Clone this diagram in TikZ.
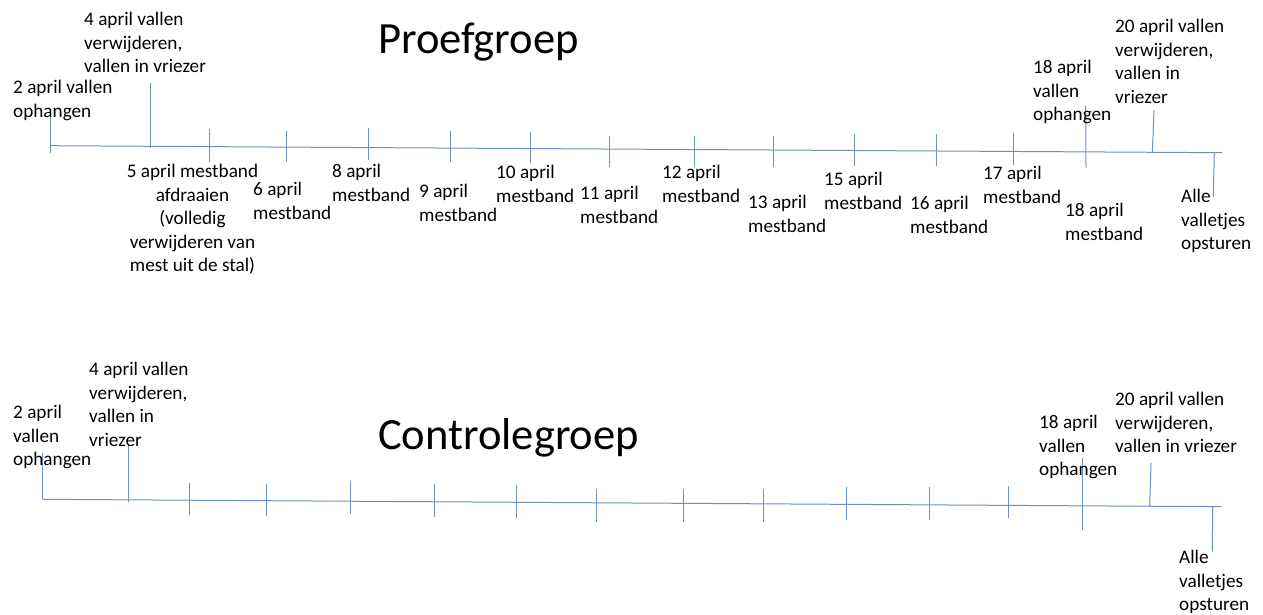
\documentclass[tikz,border=0pt]{standalone}
\usepackage{fontspec}
\setmainfont{Carlito}
\newcommand\lblfont{\fontsize{19.2}{23.6}\selectfont}
\newcommand\ttlfont{\fontsize{44.6}{52}\selectfont}
\definecolor{tl}{RGB}{110,145,188}
\tikzset{
  lbl/.style={font=\lblfont, inner sep=0pt, align=left, anchor=north west},
  clbl/.style={font=\lblfont, inner sep=0pt, align=center, anchor=north},
  ttl/.style={font=\ttlfont, inner sep=0pt},
  axis/.style={draw=tl, line width=1pt},
  tick/.style={draw=tl, line width=1pt}
}
\begin{document}
\begin{tikzpicture}[x=1pt,y=-1pt]
\useasboundingbox (0,0) rectangle (1263,615);
% ---------- Proefgroep ----------
\coordinate (a0) at (50.7,145.7);
\coordinate (a1) at (1222,152.7);
\draw[axis] (a0) -- (a1);
\foreach \x/\ya/\yb in {50.7/113/153, 150/82.7/148, 209.3/129/162, 286/131/162, 368.3/128/160,
  450/131/162, 530.3/132/163, 609.3/135.7/167, 694.3/135.7/167, 773.3/135.7/167,
  854.3/134/166, 936.3/134/166, 1013.3/133/165}
  \draw[tick] (\x,\ya) -- (\x,\yb);
\draw[tick] (1085.7,106) -- (1086,167.7);
\draw[tick] (1154,110) -- (1152.3,153);
\draw[tick] (1214.3,153) -- (1213.3,197);

\node[ttl] (t1) at (478.5,42) {Proefgroep};
\node[lbl] (p2) at (13,80) {2 april vallen\\ophangen};
\node[lbl] (p4) at (84,12) {4 april vallen\\verwijderen,\\vallen in vriezer};
\node[clbl] (p5) at (192.5,164) {5 april mestband\\afdraaien\\(volledig\\verwijderen van\\mest uit de stal)};
\node[lbl] (p6) at (253,182) {6 april\\mestband};
\node[lbl] (p8) at (332,164) {8 april\\mestband};
\node[lbl] (p9) at (419,184) {9 april\\mestband};
\node[lbl] (p10) at (496,165) {10 april\\mestband};
\node[lbl] (p11) at (580,186) {11 april\\mestband};
\node[lbl] (p12) at (662,165) {12 april\\mestband};
\node[lbl] (p13) at (748,195) {13 april\\mestband};
\node[lbl] (p15) at (824,172) {15 april\\mestband};
\node[lbl] (p16) at (910,196) {16 april\\mestband};
\node[lbl] (p17) at (983,166) {17 april\\mestband};
\node[lbl] (p18m) at (1065,203) {18 april\\mestband};
\node[lbl] (p18v) at (1033,60) {18 april\\vallen\\ophangen};
\node[lbl] (p20) at (1115,19) {20 april vallen\\verwijderen,\\vallen in\\vriezer};
\node[lbl] (pa) at (1181,189) {Alle\\valletjes\\opsturen};

% ---------- Controlegroep ----------
\coordinate (b0) at (42.3,499.3);
\coordinate (b1) at (1221.7,506.7);
\draw[axis] (b0) -- (b1);
\foreach \x/\ya/\yb in {42.3/453/499.3, 128.3/444/501.7, 189/482.7/515, 266.7/483.7/515.7, 350.7/481/514,
  434/484/516.7, 516/485/518, 596.7/489/521.7, 683.3/489/521.7, 763.7/489/521.7,
  846.3/487/520, 929.3/487/520, 1008.3/486/518}
  \draw[tick] (\x,\ya) -- (\x,\yb);
\draw[tick] (1082.3,458) -- (1082.3,530);
\draw[tick] (1151,463) -- (1149.7,506.7);
\draw[tick] (1212.7,506.7) -- (1212.3,551.7);

\node[ttl] (t2) at (508.5,438) {Controlegroep};
\node[lbl] (c2) at (13,405) {2 april\\vallen\\ophangen};
\node[lbl] (c4) at (89,362) {4 april vallen\\verwijderen,\\vallen in\\vriezer};
\node[lbl] (c18) at (1039,415) {18 april\\vallen\\ophangen};
\node[lbl] (c20) at (1115,392) {20 april vallen\\verwijderen,\\vallen in vriezer};
\node[lbl] (ca) at (1179,550) {Alle\\valletjes\\opsturen};
\end{tikzpicture}
\end{document}
